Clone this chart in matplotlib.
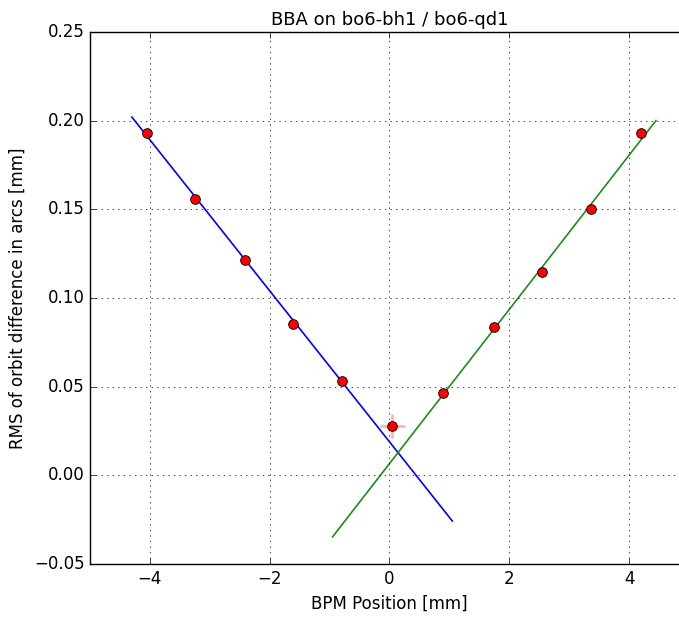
import numpy as np
import matplotlib
matplotlib.use("Agg")
import matplotlib.pyplot as plt

# BPM positions [mm] and RMS orbit difference [mm]
bpm_pos = [-4.05, -3.24, -2.42, -1.61, -0.79, 0.05, 0.89, 1.74, 2.54, 3.36, 4.20]
rms_diff = [0.193, 0.156, 0.1214, 0.0853, 0.0532, 0.0278, 0.0464, 0.0837, 0.1147, 0.150, 0.193]
x_err = [0.02, 0.02, 0.02, 0.02, 0.02, 0.21, 0.02, 0.02, 0.02, 0.02, 0.02]
y_err = [0.001, 0.001, 0.001, 0.001, 0.001, 0.007, 0.001, 0.001, 0.001, 0.001, 0.001]

# linear fits (slope, intercept, x range)
fit_left = (-0.04258, 0.0189, (-4.30, 1.05))
fit_right = (0.04348, 0.0066, (-0.95, 4.45))

plt.style.use("classic")
fig = plt.figure(figsize=(6.79, 6.19), dpi=100, facecolor="white")
ax = fig.add_axes([0.1325, 0.0889, 0.8822, 0.8594])

for (slope, icpt, (x0, x1)), color in [(fit_left, "b"), (fit_right, "#1f8a1f")]:
    xs = np.array([x0, x1])
    ax.plot(xs, slope * xs + icpt, color=color, linewidth=1.2)

ax.errorbar(bpm_pos, rms_diff, xerr=x_err, yerr=y_err, fmt="none",
            ecolor="red", alpha=0.3, elinewidth=2, capsize=0)
ax.plot(bpm_pos, rms_diff, "o", color="red", markeredgecolor="black",
        markersize=7, markeredgewidth=0.6)

ax.set_xlim(-5, 5)
ax.set_ylim(-0.05, 0.25)
ax.set_xticks([-4, -2, 0, 2, 4])
ax.set_yticks(np.arange(-0.05, 0.251, 0.05))
ax.grid(True)
ax.set_title("BBA on bo6-bh1 / bo6-qd1", fontsize=13)
ax.set_xlabel("BPM Position [mm]", fontsize=12)
ax.set_ylabel("RMS of orbit difference in arcs [mm]", fontsize=12)
ax.tick_params(labelsize=12)

fig.savefig("out.png", dpi=100, facecolor="white")
